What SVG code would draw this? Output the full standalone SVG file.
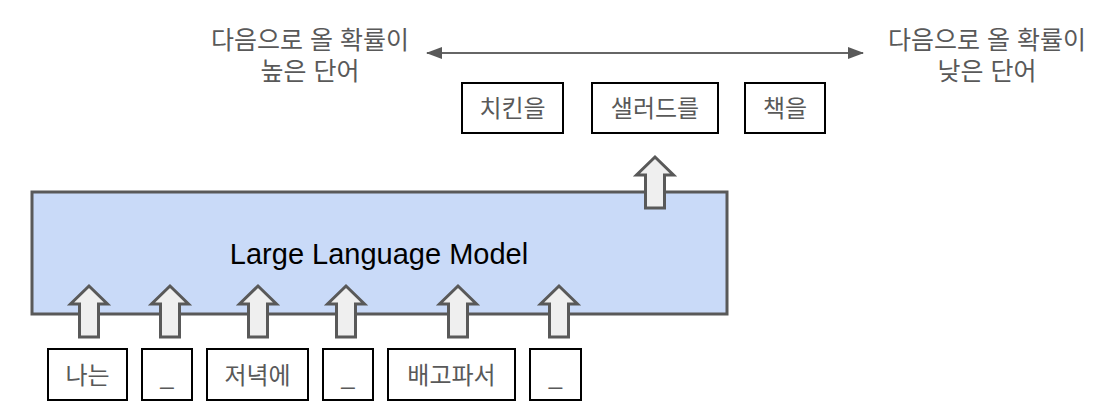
<svg xmlns="http://www.w3.org/2000/svg" width="1112" height="416" viewBox="0 0 1112 416">
<style>
.lbl{font-family:"Liberation Sans","Noto Sans CJK KR",sans-serif;font-size:24px;fill:#595959;text-anchor:middle}
.top{font-size:25px}
.box{fill:#ffffff;stroke:#000000;stroke-width:2}
.blk{fill:#efefef;stroke:#595959;stroke-width:3;stroke-linejoin:miter}
.main{fill:#c9daf8;stroke:#595959;stroke-width:3}
.title{font-family:"Liberation Sans",Arial,sans-serif;font-size:29px;fill:#000000;text-anchor:middle}
</style>
<defs>
<path id="up" d="M0,0 L18.5,18 L9.5,18 L9.5,51 L-9.5,51 L-9.5,18 L-18.5,18 Z"/>
<marker id="ah" viewBox="0 0 16 12" refX="15" refY="6" markerWidth="16" markerHeight="12" markerUnits="userSpaceOnUse" orient="auto-start-reverse">
<path d="M0,0 L16,6 L0,12 Z" fill="#595959"/>
</marker>
</defs>
<rect width="1112" height="416" fill="#ffffff"/>
<g id="llm">
<rect class="main" x="32" y="192" width="695" height="122"/>
<text class="title" x="379" y="264">Large Language Model</text>
</g>
<g id="connectors">
<use href="#up" class="blk" x="89" y="286"/>
<use href="#up" class="blk" x="170" y="286"/>
<use href="#up" class="blk" x="258" y="286"/>
<use href="#up" class="blk" x="346" y="286"/>
<use href="#up" class="blk" x="458" y="286"/>
<use href="#up" class="blk" x="559" y="286"/>
<use href="#up" class="blk" x="655" y="157"/>
<line x1="427" y1="53" x2="863" y2="53" stroke="#666666" stroke-width="2" marker-start="url(#ah)" marker-end="url(#ah)"/>
</g>
<g id="label-high">
<text class="lbl top" x="310" y="49">다음으로 올 확률이</text>
<text class="lbl top" x="310" y="80">높은 단어</text>
</g>
<g id="label-low">
<text class="lbl top" x="987" y="49">다음으로 올 확률이</text>
<text class="lbl top" x="987" y="80">낮은 단어</text>
</g>
<g id="out-chicken"><rect class="box" x="462" y="83" width="101" height="50"/><text class="lbl" x="512.5" y="117">치킨을</text></g>
<g id="out-salad"><rect class="box" x="592" y="83" width="126" height="50"/><text class="lbl" x="655" y="117">샐러드를</text></g>
<g id="out-book"><rect class="box" x="745" y="83" width="80" height="50"/><text class="lbl" x="785" y="117">책을</text></g>
<g id="in-1"><rect class="box" x="48" y="349" width="79" height="51"/><text class="lbl" x="87.5" y="384">나는</text></g>
<g id="in-2"><rect class="box" x="142" y="349" width="50" height="51"/><text class="lbl" x="167" y="384">_</text></g>
<g id="in-3"><rect class="box" x="207" y="349" width="101" height="51"/><text class="lbl" x="257.5" y="384">저녁에</text></g>
<g id="in-4"><rect class="box" x="323" y="349" width="50" height="51"/><text class="lbl" x="348" y="384">_</text></g>
<g id="in-5"><rect class="box" x="388" y="349" width="127" height="51"/><text class="lbl" x="451.5" y="384">배고파서</text></g>
<g id="in-6"><rect class="box" x="530" y="349" width="51" height="51"/><text class="lbl" x="555.5" y="384">_</text></g>
</svg>
